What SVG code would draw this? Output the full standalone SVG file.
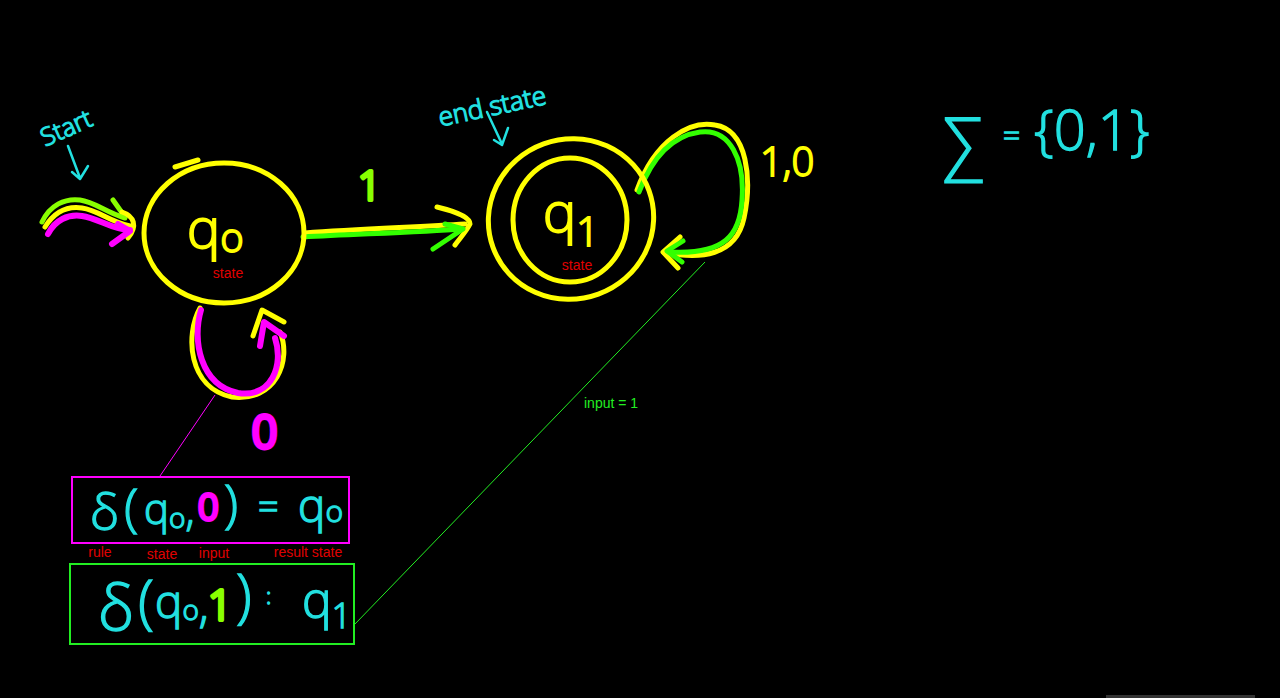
<svg xmlns="http://www.w3.org/2000/svg" width="1280" height="698" viewBox="0 0 1280 698">
<style>
.hand{font-family:"Open Sans","Liberation Sans",sans-serif;font-weight:300}
.cy{fill:#22e0e0;stroke:#22e0e0;stroke-width:1.3}
.yl{fill:#ffff00;stroke:#ffff00;stroke-width:1.8}
.lbl{font-family:"Liberation Sans",Arial,sans-serif;font-size:14px;fill:#e00000}
.sy{fill:none;stroke:#ffff00;stroke-width:5;stroke-linecap:round;stroke-linejoin:round}
.sg{fill:none;stroke:#33ff00;stroke-width:5;stroke-linecap:round;stroke-linejoin:round}
.sl{fill:none;stroke:#88ff00;stroke-width:5;stroke-linecap:round;stroke-linejoin:round}
.sm{fill:none;stroke:#ff00ff;stroke-width:6;stroke-linecap:round;stroke-linejoin:round}
.sc{fill:none;stroke:#22e0e0;stroke-width:2.5;stroke-linecap:round;stroke-linejoin:round}
</style>
<rect width="1280" height="698" fill="#000"/>

<g id="annotations">
  <text class="hand cy" x="38" y="138" font-size="25" transform="rotate(-24 62 125)">Start</text>
  <path class="sc" d="M68,146 L80,178 M72,172 L80,179 L88,166"/>
  <text class="hand cy" x="436" y="116" font-size="26" transform="rotate(-12 488 100)">end state</text>
  <path class="sc" d="M487,112 L502,144 M494,140 L502,145 L508,128"/>
  <text class="hand cy" x="942" y="166" font-size="68">∑</text>
  <text class="hand cy" x="1003" y="146" font-size="30">=</text>
  <text class="hand cy" x="1034" y="150" font-size="56">{0,1}</text>
</g>

<g id="connectors">
  <!-- start arrow -->
  <path class="sl" d="M42,222 C50,205 65,198 80,200 C95,202 105,212 125,218"/>
  <path class="sl" d="M113,200 L125,217"/>
  <path class="sy" d="M45,227 C55,211 68,206 82,208 C98,210 110,222 130,226"/>
  <path class="sy" d="M122,212 C134,216 138,226 128,238"/>
  <path class="sm" d="M48,234 C55,220 68,214 82,216 C98,218 112,230 130,230"/>
  <path class="sm" d="M112,244 L130,231 L118,224"/>
  <!-- q0 -> q1 -->
  <path class="sy" d="M305,233 C360,229 420,227 465,224"/>
  <path class="sy" d="M437,207 C458,212 470,218 470,224 C466,232 460,238 455,245"/>
  <path class="sg" d="M303,237 C360,234 420,232 462,229"/>
  <path class="sg" d="M445,224 L463,229 L433,249"/>
  <text class="hand" x="358" y="200" font-size="40" fill="#88ff00" stroke="#88ff00" stroke-width="4" stroke-linejoin="round">1</text>
  <!-- q1 self loop -->
  <path class="sy" d="M637,190 C655,140 690,120 715,125 C748,130 752,180 744,218 C736,256 700,260 664,252"/>
  <path class="sy" d="M680,237 L663,252 L678,268"/>
  <path class="sg" d="M639,192 C655,150 678,135 700,132 C730,128 745,160 742,200 C740,235 725,255 670,252"/>
  <path class="sg" d="M683,241 L667,251 L682,262"/>
  <text class="hand yl" x="760" y="176" font-size="40">1,0</text>
  <!-- q0 self loop -->
  <path class="sy" d="M200,308 C185,335 188,388 232,397 C276,402 292,360 280,332"/>
  <path class="sy" d="M253,336 L262,310 L284,322"/>
  <path class="sm" d="M201,310 C192,340 200,385 238,393 C272,398 284,365 275,338"/>
  <path class="sm" d="M260,346 L264,322 L284,336"/>
  <text class="hand" x="252" y="448" font-size="44" fill="#ff00ff" stroke="#ff00ff" stroke-width="5" stroke-linejoin="round">0</text>
  <!-- thin leader lines -->
  <path d="M215,395 L160,476" stroke="#ff00ff" stroke-width="1"/>
  <path d="M705,262 L355,624" stroke="#22ee22" stroke-width="1"/>
  <text x="584" y="408" font-family="Liberation Sans,Arial,sans-serif" font-size="14" fill="#22ee22">input = 1</text>
</g>

<g id="q0">
  <ellipse cx="224" cy="233" rx="80" ry="70" fill="none" stroke="#ffff00" stroke-width="5"/>
  <path class="sy" d="M175,167 L198,160"/>
  <text class="hand yl" x="187" y="248" font-size="56">q<tspan font-size="40" dy="4">o</tspan></text>
  <text class="lbl" x="228" y="278" text-anchor="middle">state</text>
</g>

<g id="q1">
  <ellipse cx="571" cy="219" rx="83" ry="80" fill="none" stroke="#ffff00" stroke-width="5" transform="rotate(-20 571 219)"/>
  <ellipse cx="570" cy="220" rx="57" ry="62" fill="none" stroke="#ffff00" stroke-width="5"/>
  <text class="hand yl" x="543" y="232" font-size="56">q<tspan font-size="40" dy="14">1</tspan></text>
  <text class="lbl" x="577" y="270" text-anchor="middle">state</text>
</g>

<g id="rule0">
  <rect x="72" y="477" width="277" height="66" fill="none" stroke="#ff00ff" stroke-width="2"/>
  <text class="hand cy" x="90" y="530" font-size="50">δ</text>
  <text class="hand cy" x="124" y="526" font-size="52">(</text>
  <text class="hand cy" x="144" y="524" font-size="42">q<tspan font-size="28" dy="4">o</tspan><tspan dy="-2">,</tspan></text>
  <text class="hand" x="198" y="520" font-size="36" fill="#ff00ff" stroke="#ff00ff" stroke-width="4" stroke-linejoin="round">0</text>
  <text class="hand cy" x="224" y="522" font-size="52">)</text>
  <text class="hand cy" x="258" y="520" font-size="36">=</text>
  <text class="hand cy" x="298" y="522" font-size="46">q<tspan font-size="30">o</tspan></text>
  <text class="lbl" x="100" y="557" text-anchor="middle">rule</text>
  <text class="lbl" x="162" y="559" text-anchor="middle">state</text>
  <text class="lbl" x="214" y="558" text-anchor="middle">input</text>
  <text class="lbl" x="308" y="557" text-anchor="middle">result state</text>
</g>

<g id="rule1">
  <rect x="70" y="564" width="284" height="80" fill="none" stroke="#22ee22" stroke-width="2"/>
  <text class="hand cy" x="98" y="630" font-size="62">δ</text>
  <text class="hand cy" x="138" y="622" font-size="58">(</text>
  <text class="hand cy" x="155" y="618" font-size="46">q<tspan font-size="28" dy="2">o</tspan><tspan dy="2">,</tspan></text>
  <text class="hand" x="208" y="620" font-size="42" fill="#88ff00" stroke="#88ff00" stroke-width="4" stroke-linejoin="round">1</text>
  <text class="hand cy" x="236" y="616" font-size="58">)</text>
  <text class="hand cy" x="266" y="604" font-size="22">:</text>
  <text class="hand cy" x="302" y="618" font-size="50">q<tspan font-size="34" dy="10">1</tspan></text>
</g>

<rect x="1106" y="695" width="149" height="3" fill="#333"/>
</svg>
